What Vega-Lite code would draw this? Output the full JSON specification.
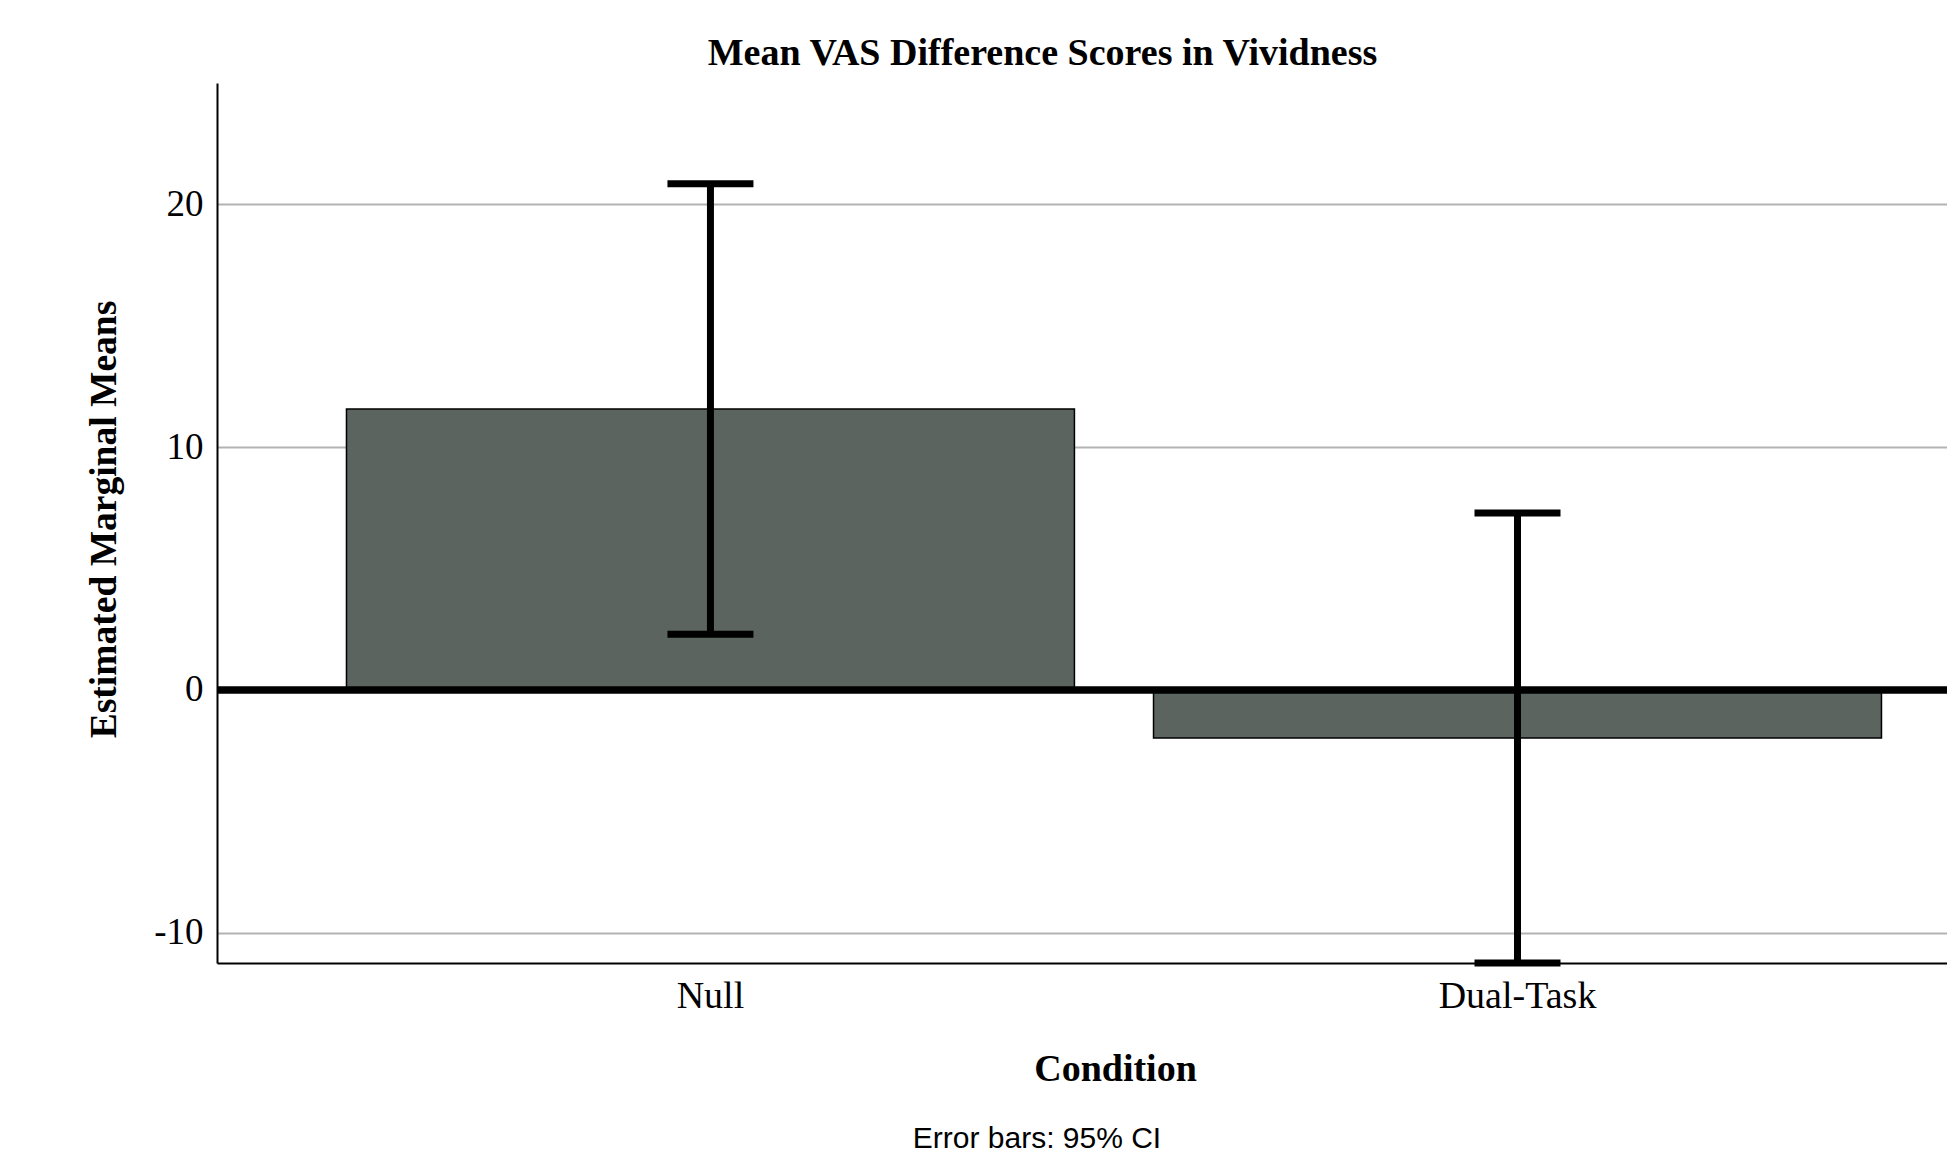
{
  "$schema": "https://vega.github.io/schema/vega-lite/v6.json",
  "width": 1730,
  "height": 880,
  "autosize": {"type": "none"},
  "padding": {"left": 217, "top": 83, "right": 0, "bottom": 192},
  "background": "white",
  "title": {
    "text": "Error bars: 95% CI",
    "orient": "bottom",
    "anchor": "middle",
    "frame": "group",
    "dx": -45,
    "offset": 60,
    "font": "Liberation Sans",
    "fontSize": 30,
    "fontWeight": "normal",
    "color": "black",
    "baseline": "alphabetic"
  },
  "data": {
    "values": [
      {"condition": "Null", "mean": 11.57, "lo": 2.29, "hi": 20.85},
      {"condition": "Dual-Task", "mean": -1.98, "lo": -11.25, "hi": 7.29}
    ]
  },
  "resolve": {"axis": {"x": "independent"}},
  "layer": [
    {
      "mark": {"type": "bar", "color": "#5B645E", "stroke": "#000000", "strokeWidth": 1.5},
      "encoding": {
        "x": {
          "field": "condition",
          "type": "nominal",
          "sort": ["Null", "Dual-Task"],
          "scale": {"paddingInner": 0.098, "paddingOuter": 0.1208, "align": 0.664},
          "axis": {
            "orient": "bottom",
            "title": "Condition",
            "labelAngle": 0,
            "labelFont": "Liberation Serif",
            "labelFontSize": 38,
            "labelColor": "black",
            "labelPadding": 14,
            "ticks": false,
            "tickSize": 0,
            "domain": true,
            "domainColor": "black",
            "domainWidth": 2,
            "grid": false,
            "titleFont": "Liberation Serif",
            "titleFontSize": 38,
            "titleFontWeight": "bold",
            "titleColor": "black",
            "titleX": 898,
            "titleY": 117,
            "titleBaseline": "alphabetic",
            "titleAlign": "center"
          }
        },
        "y": {
          "field": "mean",
          "type": "quantitative",
          "scale": {"domain": [-11.25, 25], "nice": false},
          "axis": {
            "title": "Estimated Marginal Means",
            "values": [-10, 0, 10, 20],
            "labelExpr": "'' + datum.value",
            "grid": true,
            "gridColor": "#b3b3b3",
            "gridWidth": 2,
            "domain": true,
            "domainColor": "black",
            "domainWidth": 2,
            "ticks": false,
            "tickSize": 0,
            "labelPadding": 14,
            "labelFont": "Liberation Serif",
            "labelFontSize": 37,
            "labelColor": "black",
            "titleFont": "Liberation Serif",
            "titleFontSize": 37.5,
            "titleFontWeight": "bold",
            "titleColor": "black",
            "titleX": -102,
            "titleY": 436,
            "titleAngle": -90,
            "titleBaseline": "alphabetic",
            "titleAlign": "center"
          }
        }
      }
    },
    {
      "mark": {"type": "rule", "color": "black", "strokeWidth": 7},
      "encoding": {"y": {"datum": 0, "type": "quantitative"}}
    },
    {
      "mark": {"type": "rule", "color": "black", "strokeWidth": 7},
      "encoding": {
        "x": {
          "field": "condition",
          "type": "nominal",
          "sort": ["Null", "Dual-Task"],
          "axis": {
            "orient": "top",
            "title": "Mean VAS Difference Scores in Vividness",
            "labels": false,
            "ticks": false,
            "domain": false,
            "grid": false,
            "titleFont": "Liberation Serif",
            "titleFontSize": 38,
            "titleFontWeight": "bold",
            "titleColor": "black",
            "titleX": 825,
            "titleY": -19,
            "titleBaseline": "alphabetic",
            "titleAlign": "center"
          }
        },
        "y": {"field": "lo", "type": "quantitative"},
        "y2": {"field": "hi"}
      }
    },
    {
      "mark": {"type": "tick", "color": "black", "size": 86, "thickness": 7, "opacity": 1},
      "encoding": {
        "x": {"field": "condition", "type": "nominal", "sort": ["Null", "Dual-Task"], "axis": null},
        "y": {"field": "lo", "type": "quantitative"}
      }
    },
    {
      "mark": {"type": "tick", "color": "black", "size": 86, "thickness": 7, "opacity": 1},
      "encoding": {
        "x": {"field": "condition", "type": "nominal", "sort": ["Null", "Dual-Task"], "axis": null},
        "y": {"field": "hi", "type": "quantitative"}
      }
    }
  ],
  "config": {"view": {"stroke": null}}
}
